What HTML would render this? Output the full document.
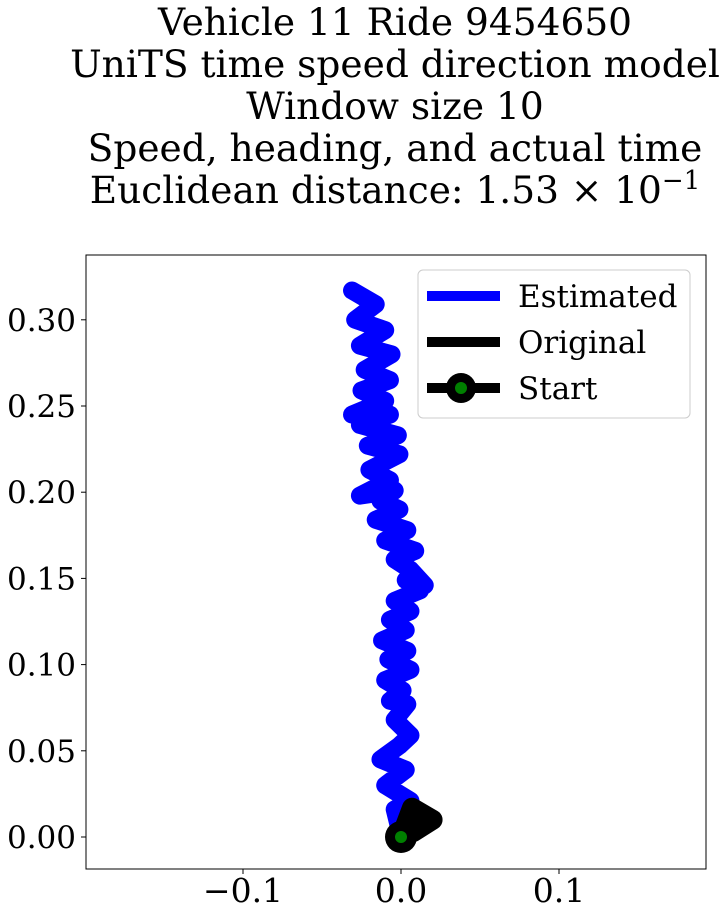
<!DOCTYPE html>
<html><head><meta charset="utf-8"><style>
body{margin:0;background:#fff;}
svg{display:block;font-family:"DejaVu Serif","Liberation Serif",serif;}
</style></head><body>
<svg id="chart" width="727" height="917">
<g font-size="37.5" text-anchor="middle" fill="#000">
<text x="395" y="35">Vehicle 11 Ride 9454650</text>
<text x="395" y="77">UniTS time speed direction model</text>
<text x="395" y="119">Window size 10</text>
<text x="395" y="161">Speed, heading, and actual time</text>
<text x="395" y="203">Euclidean distance: 1.53 × 10<tspan dy="-14" font-size="26">−1</tspan></text>
</g>
<defs><clipPath id="pc"><rect x="86" y="255" width="620" height="614"/></clipPath></defs>
<g id="ticks"></g>
<g id="marks" clip-path="url(#pc)"></g>
<rect x="86" y="255" width="620" height="614" fill="none" stroke="#000" stroke-width="1"/>
<g>
<rect x="418" y="270" width="272" height="148" rx="5" fill="#fff" fill-opacity="0.8" stroke="#ccc"/>
<line x1="427" y1="296" x2="500" y2="296" stroke="#00f" stroke-width="10"/>
<text x="518" y="307" font-size="31">Estimated</text>
<line x1="427" y1="342" x2="500" y2="342" stroke="#000" stroke-width="10"/>
<text x="518" y="353" font-size="31">Original</text>
<line x1="427" y1="388" x2="500" y2="388" stroke="#000" stroke-width="10"/>
<circle cx="461" cy="388" r="15" fill="#000"/>
<circle cx="461" cy="388" r="6" fill="green"/>
<text x="518" y="399" font-size="31">Start</text>
</g>
</svg>
<script>
const estX=[0,-0.004,0.006,-0.010,0.003,-0.013,-0.001,0.006,-0.004,0.004,-0.007,0.001,-0.010,0.006,-0.008,0.004,-0.012,0.003,-0.007,0.006,-0.004,0.012,0.003,0.015,0.006,-0.004,0.009,-0.010,0.004,-0.016,-0.001,-0.013,-0.004,-0.026,-0.007,-0.020,-0.001,-0.021,-0.002,-0.026,-0.007,-0.031,-0.010,-0.025,-0.007,-0.023,-0.006,-0.026,-0.010,-0.029,-0.016,-0.031];
const estY=[0.001,0.016,0.021,0.030,0.039,0.045,0.053,0.059,0.068,0.077,0.079,0.085,0.091,0.097,0.103,0.108,0.114,0.120,0.126,0.131,0.137,0.143,0.149,0.146,0.155,0.161,0.166,0.172,0.178,0.184,0.190,0.195,0.201,0.198,0.207,0.213,0.222,0.227,0.233,0.239,0.245,0.245,0.253,0.259,0.265,0.271,0.280,0.285,0.294,0.300,0.309,0.317];
const origX=[0,0.007,0.020,0.008,0];
const origY=[0,0.017,0.010,0.003,0];
const xTicks=[-0.1,0.0,0.1];
const xTickLabels=["−0.1","0.0","0.1"];
const yTicks=[0,0.05,0.10,0.15,0.20,0.25,0.30];
const yTickLabels=["0.00","0.05","0.10","0.15","0.20","0.25","0.30"];
const NS="http://www.w3.org/2000/svg";
const sx=v=>401+v*1580, sy=v=>837-v*1724;
const ticks=document.getElementById('ticks'), marks=document.getElementById('marks');
function mk(tag,attrs,parent){const e=document.createElementNS(NS,tag);for(const k in attrs)e.setAttribute(k,attrs[k]);parent.appendChild(e);return e;}
xTicks.forEach((v,i)=>{
 const l=mk('line',{x1:sx(v),x2:sx(v),y1:869,y2:874,stroke:'#000'},ticks);
 
 
 const t=mk('text',{x:sx(v),y:902,'font-size':33,'text-anchor':'middle'},ticks);
 t.textContent=xTickLabels[i];
 
 
});
yTicks.forEach((v,i)=>{
 const l=mk('line',{x1:81,x2:86,y1:sy(v),y2:sy(v),stroke:'#000'},ticks);
 
 
 const t=mk('text',{x:76,y:sy(v)+11,'font-size':31,'text-anchor':'end'},ticks);
 t.textContent=yTickLabels[i];
 
 
});
const pe=mk('polyline',{points:estX.map((x,i)=>sx(x)+','+sy(estY[i])).join(' '),fill:'none',stroke:'#00f','stroke-width':18,'stroke-linejoin':'round','stroke-linecap':'round'},marks);


const po=mk('polyline',{points:origX.map((x,i)=>sx(x)+','+sy(origY[i])).join(' '),fill:'none',stroke:'#000','stroke-width':20,'stroke-linejoin':'round','stroke-linecap':'round'},marks);


const sm=mk('circle',{cx:sx(origX[0]),cy:sy(origY[0]),r:16,fill:'#000'},marks);


const sd=mk('circle',{cx:sx(origX[0]),cy:sy(origY[0]),r:6,fill:'green'},marks);


</script>
</body></html>
